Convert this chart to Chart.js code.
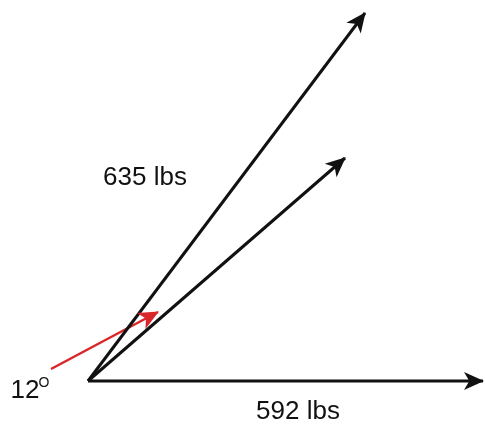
<!DOCTYPE html>
<html>
<head>
<meta charset="utf-8">
<script src="https://cdn.jsdelivr.net/npm/chart.js@4"></script>
<style>
  body { margin: 0; background: #fff; }
  canvas { display: block; }
</style>
</head>
<body>
<canvas id="forceChart" width="485" height="426"></canvas>
<script>
// vectors, all from the common origin (0,0) except the red pointer
let vectorNames = ['592 lbs', '635 lbs', 'resultant', 'angle pointer'];
let vectorStartX = [0, 0, 0, -37];
let vectorStartY = [0, 0, 0, 12];
let vectorEndX = [395, 277, 257, 70];
let vectorEndY = [0, 368, 223, 69];
let vectorColors = ['#111111', '#111111', '#111111', '#d9262a'];

// text labels (data units)
let labelTexts = ['635 lbs', '592 lbs', '12'];
let labelX = [57, 210, -63];
let labelY = [203, -31, -10];

// build the datasets from the arrays above
let datasets = vectorNames.map((name, i) => {
    return {
        label: name,
        data: [
            { x: vectorStartX[i], y: vectorStartY[i] },
            { x: vectorEndX[i], y: vectorEndY[i] }
        ],
        showLine: true,
        borderColor: vectorColors[i],
        borderWidth: i === 3 ? 2.5 : 3,
        pointRadius: 0,
        clip: false
    };
});

// draws the arrow heads and the labels
const arrowPlugin = {
    id: 'arrows',
    afterDatasetsDraw(chart) {
        let ctx = chart.ctx;
        chart.data.datasets.forEach((ds, i) => {
            let pts = chart.getDatasetMeta(i).data;
            let p0 = pts[0], p1 = pts[1];
            let ang = Math.atan2(p1.y - p0.y, p1.x - p0.x);
            let len = 19, half = 9;
            ctx.save();
            ctx.translate(p1.x, p1.y);
            ctx.rotate(ang);
            ctx.fillStyle = ds.borderColor;
            ctx.beginPath();
            ctx.moveTo(1, 0);
            ctx.lineTo(-len, -half);
            ctx.lineTo(-len * 0.72, 0);
            ctx.lineTo(-len, half);
            ctx.closePath();
            ctx.fill();
            ctx.restore();
        });

        let xs = chart.scales.x, ys = chart.scales.y;
        ctx.save();
        ctx.fillStyle = '#111111';
        ctx.font = '26px "Liberation Sans", Arial, sans-serif';
        ctx.textAlign = 'center';
        ctx.textBaseline = 'middle';
        labelTexts.forEach((t, i) => {
            ctx.fillText(t, xs.getPixelForValue(labelX[i]), ys.getPixelForValue(labelY[i]));
        });
        // degree mark for the 12 label
        let degX = xs.getPixelForValue(labelX[2]) + 19;
        let degY = ys.getPixelForValue(labelY[2]) - 8;
        ctx.font = '14px "Liberation Sans", Arial, sans-serif';
        ctx.fillText('O', degX, degY);
        ctx.restore();
    }
};

let ctx = document.getElementById('forceChart').getContext('2d');
let forceChart = new Chart(ctx, {
    type: 'scatter',
    data: { datasets: datasets },
    options: {
        responsive: false,
        animation: false,
        layout: { padding: 0 },
        scales: {
            x: { type: 'linear', display: false, min: -88, max: 397 },
            y: { type: 'linear', display: false, min: -45, max: 381 }
        },
        plugins: {
            legend: { display: false },
            tooltip: { enabled: false }
        }
    },
    plugins: [arrowPlugin]
});
</script>
</body>
</html>
